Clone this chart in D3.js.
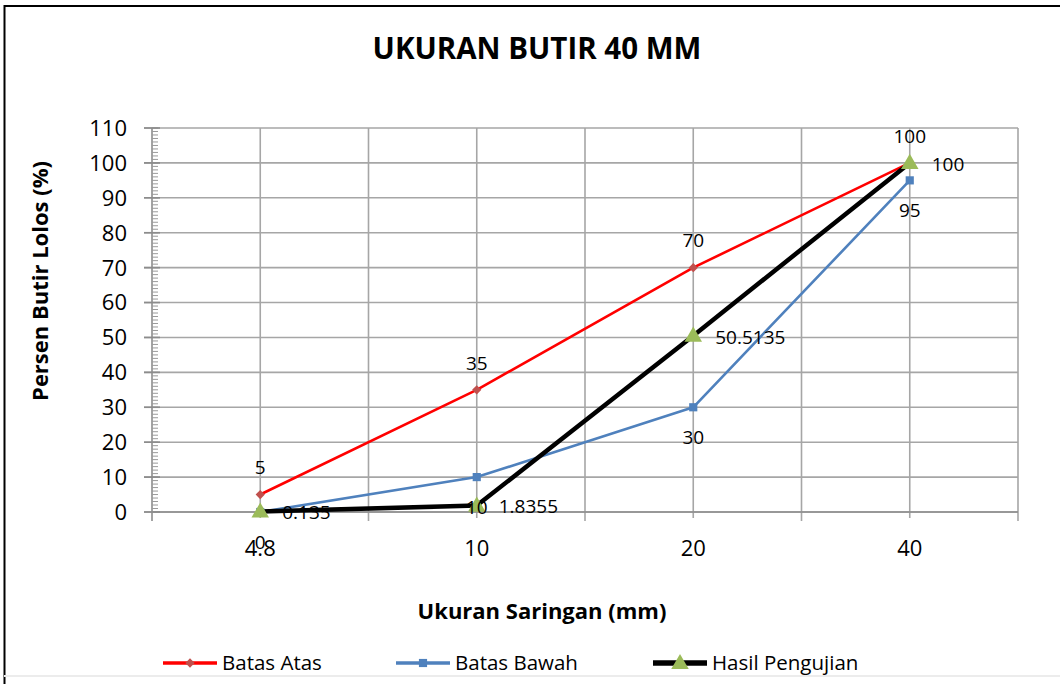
<!DOCTYPE html>
<html>
<head>
<meta charset="utf-8">
<script src="https://cdn.jsdelivr.net/npm/d3@7"></script>
<style>
  body { margin: 0; background: #fff; }
  svg { display: block; font-family: 'Open Sans', sans-serif; }
</style>
</head>
<body>
<svg id="chart"></svg>
<script>
// sieve sizes (category axis) and passing percentages
const sieveSizes = ['4.8', '10', '20', '40'];
const batasAtas = [5, 35, 70, 100];
const batasBawah = [0, 10, 30, 95];
const hasilPengujian = [0.135, 1.8355, 50.5135, 100];
const yTicks = [0, 10, 20, 30, 40, 50, 60, 70, 80, 90, 100, 110];

class GradationChart {
    constructor(_config) {
        this.config = {
            parentElement: _config.parentElement,
            containerWidth: _config.containerWidth || 1060,
            containerHeight: _config.containerHeight || 684,
            margin: { top: 128, bottom: 172, right: 42, left: 152 }
        }
        this.initVis();
    }

    initVis() {
        let vis = this;

        vis.width = vis.config.containerWidth - vis.config.margin.left - vis.config.margin.right;
        vis.height = vis.config.containerHeight - vis.config.margin.top - vis.config.margin.bottom;

        vis.svg = d3.select(vis.config.parentElement)
            .attr('width', vis.config.containerWidth)
            .attr('height', vis.config.containerHeight);

        // chart area frame (left + top dark, bottom faint)
        vis.svg.append('line').attr('x1', 4.5).attr('x2', 4.5).attr('y1', 5).attr('y2', 684)
            .attr('stroke', '#000').attr('stroke-width', 2);
        vis.svg.append('line').attr('x1', 4).attr('x2', 1060).attr('y1', 6).attr('y2', 6)
            .attr('stroke', '#000').attr('stroke-width', 2);
        vis.svg.append('line').attr('x1', 4).attr('x2', 1060).attr('y1', 676).attr('y2', 676)
            .attr('stroke', '#ececec').attr('stroke-width', 2);

        vis.chart = vis.svg.append('g')
            .attr('transform', `translate(${vis.config.margin.left}, ${vis.config.margin.top})`);

        // scales
        vis.xScale = d3.scaleBand()
            .domain(sieveSizes)
            .range([0, vis.width]);
        vis.x = d => vis.xScale(d) + vis.xScale.bandwidth() / 2;

        vis.yScale = d3.scaleLinear()
            .domain([0, 110])
            .range([vis.height, 0]);

        const gridColor = '#a6a6a6';

        // horizontal gridlines
        vis.chart.append('g')
            .selectAll('line')
            .data(yTicks)
            .join('line')
            .attr('x1', -8)
            .attr('x2', vis.width)
            .attr('y1', d => vis.yScale(d))
            .attr('y2', d => vis.yScale(d))
            .attr('stroke', gridColor)
            .attr('stroke-width', 1.6);

        // vertical gridlines at category centres and boundaries
        const boundaries = sieveSizes.map(d => vis.xScale(d)).concat([vis.width]);
        vis.chart.append('g')
            .selectAll('line')
            .data(sieveSizes)
            .join('line')
            .attr('x1', d => vis.x(d))
            .attr('x2', d => vis.x(d))
            .attr('y1', 0)
            .attr('y2', vis.height + 6)
            .attr('stroke', gridColor)
            .attr('stroke-width', 1.6);
        vis.chart.append('g')
            .selectAll('line')
            .data(boundaries)
            .join('line')
            .attr('x1', d => d)
            .attr('x2', d => d)
            .attr('y1', 0)
            .attr('y2', vis.height + 9)
            .attr('stroke', (d, i) => i === 0 ? '#8c8c8c' : gridColor)
            .attr('stroke-width', 1.6);

        // y axis minor ticks (every 1 unit)
        vis.chart.append('g')
            .selectAll('line')
            .data(d3.range(0, 111, 1))
            .join('line')
            .attr('x1', 0)
            .attr('x2', 6)
            .attr('y1', d => vis.yScale(d))
            .attr('y2', d => vis.yScale(d))
            .attr('stroke', '#9a9a9a')
            .attr('stroke-width', 1);

        // major y ticks crossing the axis
        vis.chart.append('g')
            .selectAll('line')
            .data(yTicks)
            .join('line')
            .attr('x1', -8)
            .attr('x2', 8)
            .attr('y1', d => vis.yScale(d))
            .attr('y2', d => vis.yScale(d))
            .attr('stroke', '#8c8c8c')
            .attr('stroke-width', 1.6);

        // x axis line
        vis.chart.append('line')
            .attr('x1', 0).attr('x2', vis.width)
            .attr('y1', vis.height).attr('y2', vis.height)
            .attr('stroke', '#8c8c8c')
            .attr('stroke-width', 1.6);

        // tick labels
        vis.chart.append('g')
            .selectAll('text')
            .data(yTicks)
            .join('text')
            .attr('x', -25)
            .attr('y', d => vis.yScale(d))
            .attr('dy', '0.36em')
            .attr('text-anchor', 'end')
            .style('font-size', '22px')
            .style('fill', '#000')
            .text(d => d);

        vis.chart.append('g')
            .selectAll('text')
            .data(sieveSizes)
            .join('text')
            .attr('x', d => vis.x(d))
            .attr('y', vis.height + 36)
            .attr('dy', '0.36em')
            .attr('text-anchor', 'middle')
            .style('font-size', '22px')
            .style('fill', '#000')
            .text(d => d);

        // series
        vis.series = [
            { name: 'Batas Atas', values: batasAtas, color: '#ff0000', width: 2.6, marker: 'diamond', markerColor: '#c0504d', label: 'above' },
            { name: 'Batas Bawah', values: batasBawah, color: '#4f81bd', width: 2.6, marker: 'square', markerColor: '#4f81bd', label: 'below' },
            { name: 'Hasil Pengujian', values: hasilPengujian, color: '#000000', width: 4.5, marker: 'triangle', markerColor: '#9bbb59', label: 'right' }
        ];

        vis.line = d3.line()
            .x((d, i) => vis.x(sieveSizes[i]))
            .y(d => vis.yScale(d));

        vis.symbols = {
            diamond: d3.symbol().type(d3.symbolDiamond2).size(55),
            square: d3.symbol().type(d3.symbolSquare2).size(85),
            triangle: d3.symbol().type(d3.symbolTriangle2).size(220)
        };

        vis.series.forEach(s => {
            vis.chart.append('path')
                .datum(s.values)
                .attr('d', vis.line)
                .attr('fill', 'none')
                .attr('stroke', s.color)
                .attr('stroke-width', s.width)
                .attr('stroke-linejoin', 'round');
        });

        vis.series.forEach(s => {
            vis.chart.append('g')
                .selectAll('path')
                .data(s.values)
                .join('path')
                .attr('transform', (d, i) => `translate(${vis.x(sieveSizes[i])}, ${vis.yScale(d) + (s.marker === 'triangle' ? 1 : 0)})`)
                .attr('d', vis.symbols[s.marker])
                .attr('fill', s.markerColor);
        });

        // data labels
        vis.series.forEach(s => {
            vis.chart.append('g')
                .selectAll('text')
                .data(s.values)
                .join('text')
                .attr('x', (d, i) => vis.x(sieveSizes[i]) + (s.label === 'right' ? 22 : 0))
                .attr('y', d => vis.yScale(d) + (s.label === 'above' ? -27 : s.label === 'below' ? 30 : 1))
                .attr('dy', '0.36em')
                .attr('text-anchor', s.label === 'right' ? 'start' : 'middle')
                .style('font-size', '19px')
                .style('fill', '#000')
                .text(d => d);
        });

        // titles
        vis.svg.append('text')
            .attr('x', 537)
            .attr('y', 48)
            .attr('dy', '0.36em')
            .attr('text-anchor', 'middle')
            .style('font-size', '29.5px')
            .style('font-weight', 'bold')
            .text('UKURAN BUTIR 40 MM');

        vis.svg.append('text')
            .attr('transform', 'translate(40, 281) rotate(-90)')
            .attr('dy', '0.36em')
            .attr('text-anchor', 'middle')
            .style('font-size', '22px')
            .style('font-weight', 'bold')
            .text('Persen Butir Lolos (%)');

        vis.svg.append('text')
            .attr('x', 542)
            .attr('y', 611)
            .attr('dy', '0.36em')
            .attr('text-anchor', 'middle')
            .style('font-size', '22px')
            .style('font-weight', 'bold')
            .text('Ukuran Saringan (mm)');

        // legend
        const legendItems = [
            { s: vis.series[0], x: 163 },
            { s: vis.series[1], x: 396 },
            { s: vis.series[2], x: 653 }
        ];
        vis.legend = vis.svg.append('g').attr('transform', 'translate(0, 663)');
        const item = vis.legend.selectAll('g')
            .data(legendItems)
            .join('g')
            .attr('transform', d => `translate(${d.x}, 0)`);
        item.append('line')
            .attr('x1', 0).attr('x2', 54)
            .attr('y1', 0).attr('y2', 0)
            .attr('stroke', d => d.s.color)
            .attr('stroke-width', d => d.s.width + 1);
        item.append('path')
            .attr('transform', d => `translate(27, ${d.s.marker === 'triangle' ? 1 : 0})`)
            .attr('d', d => vis.symbols[d.s.marker]())
            .attr('fill', d => d.s.markerColor);
        item.append('text')
            .attr('x', 59)
            .attr('y', 0)
            .attr('dy', '0.36em')
            .style('font-size', '20.5px')
            .style('fill', '#000')
            .text(d => d.s.name);
    }
}

new GradationChart({ parentElement: '#chart' });
</script>
</body>
</html>
